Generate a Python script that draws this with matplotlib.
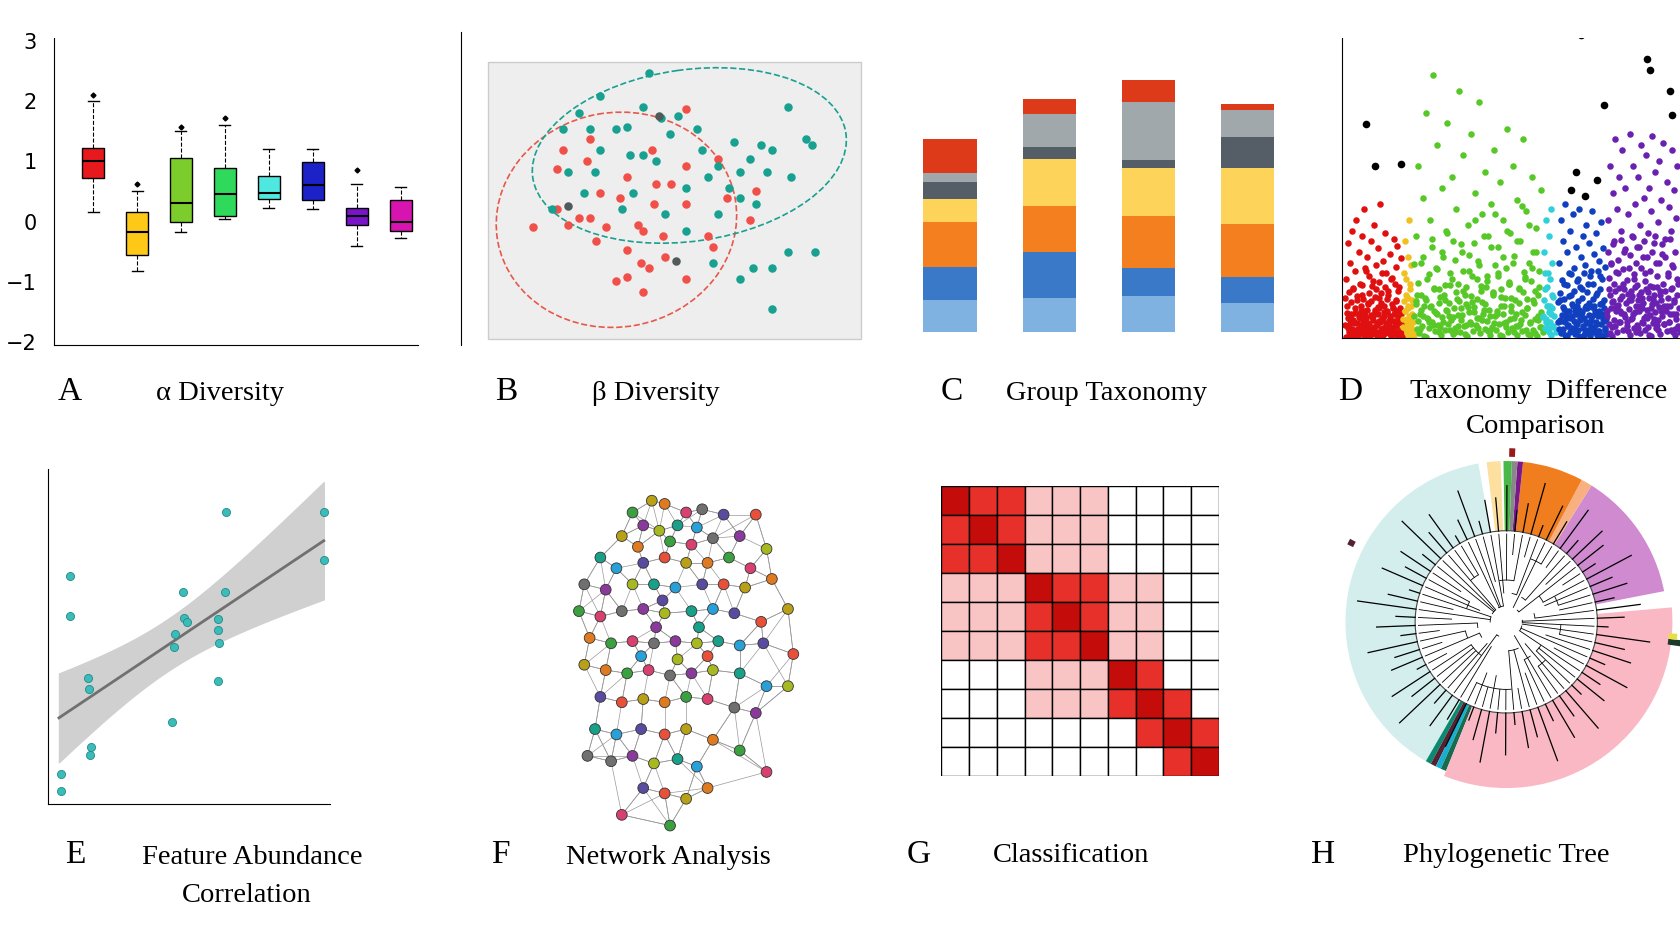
import numpy as np
import matplotlib.pyplot as plt
from matplotlib.patches import Ellipse, Rectangle, Wedge, Arc

# reference measured in a 1568 x 873 frame; figure is saved at 1681 x 936
W, H = 1568, 873
fig = plt.figure(figsize=(16.81, 9.36), dpi=100)
SERIF = 'Liberation Serif'

def px_axes(x0, y0, x1, y1):
    return fig.add_axes([x0 / W, 1 - y1 / H, (x1 - x0) / W, (y1 - y0) / H])

# ── data ──────────────────────────────────────────────────────────────────────
# A: alpha diversity box stats (med, q1, q3, lo, hi, fliers)
alpha_colors = ['#e8191c', '#fdc916', '#7ccd2c', '#2fd95c', '#4ee8e0', '#1c22c8', '#7a14c8', '#d814b0']
alpha_med = [1.0, -0.17, 0.3, 0.45, 0.48, 0.6, 0.1, 0.0]
alpha_q1 = [0.72, -0.55, 0.0, 0.1, 0.38, 0.35, -0.05, -0.15]
alpha_q3 = [1.22, 0.15, 1.05, 0.88, 0.75, 0.98, 0.22, 0.35]
alpha_lo = [0.15, -0.82, -0.17, 0.05, 0.22, 0.2, -0.4, -0.28]
alpha_hi = [2.0, 0.5, 1.5, 1.6, 1.2, 1.2, 0.62, 0.58]
alpha_fliers = [[2.1], [0.62], [1.57], [1.72], [], [], [0.85], []]

# B: beta diversity ordination (PC1, PC2)
beta_red = [(520,158),(548,150),(520,195),(497,212),(540,203),(550,203),(565,212),(578,185),(585,165),
            (595,210),(610,190),(600,215),(618,220),(620,240),(598,245),(585,258),(600,272),(575,262),
            (585,233),(556,225),(660,220),(640,190),(626,172),(608,140),(640,155),(640,102),(665,230),
            (640,260),(678,185),(700,205),(705,178),(670,148),(525,140),(550,130),(605,250),(560,180),
            (530,210),(612,172)]
beta_teal = [(605,68),(560,90),(575,120),(585,118),(617,110),(625,125),(612,150),(555,160),(545,180),
             (530,160),(525,120),(550,120),(588,145),(600,145),(655,140),(670,155),(685,132),(700,148),
             (720,140),(715,160),(690,160),(680,175),(705,190),(735,100),(752,130),(757,135),(738,165),
             (660,165),(670,200),(640,215),(665,245),(690,260),(720,288),(735,235),(760,235),(702,250),
             (650,120),(560,140),(600,100),(540,105),(590,180),(690,185),(620,200),(580,195),(640,175),
             (710,135),(515,195),(720,250),(632,108)]
beta_grey = [(530,192),(631,243),(615,108)]

# C: group taxonomy stacks (bottom -> top)
tax_colors = ['#7fb2e0', '#3a78c8', '#f47f1e', '#fdd35a', '#555d66', '#a0a8ab', '#dd3a1a']
tax_groups = [
    [30, 31, 42, 21, 16, 9, 31],
    [32, 43, 43, 44, 11, 31, 14],
    [34, 26, 49, 44, 8, 54, 20],
    [27, 25, 49, 52, 29, 25, 6],
]

# D: taxonomy difference (per-group significance values)
diff_colors = ['#e01010', '#f0c020', '#58c828', '#30d0d8', '#1040c0', '#6a20b0']
diff_ranges = [(1252, 1310), (1306, 1320), (1316, 1440), (1436, 1452), (1450, 1500), (1496, 1568)]
diff_vals = [
    [12,55,30,88,5,70,22,100,45,15,62,110,35,8,80,50,25,95,40,18,120,65,10,75,32,58,3,90,48,20,105,38,
     68,14,84,28,52,125,42,6,72,24,98,60,36,44,16,78,4,56,28,92,11,66,34,86,19,47,2,74],
    [10,60,25,90,40,5,75,30,110,50,18,68,35],
    [20,95,40,160,8,70,130,30,210,55,15,110,85,245,25,65,180,45,10,140,75,35,100,200,20,60,150,90,5,120,
     50,230,28,80,170,40,12,105,62,190,33,88,135,18,72,220,48,115,26,155,58,95,7,125,42,175,68,22,85,
     145,38,110,14,65,195,52,98,30,160,76,11,128,46,90,24,185,57,118,36,70,3,150,80,44,102,17,62,138],
    [20,80,45,110,10,60,95,30,120,70,38],
    [15,70,35,110,5,90,50,125,25,80,12,60,100,40,20,115,65,8,85,30,55,120,18,75,45,95,3,68,105,28,50,
     88,14,62,118,36,78,22,98,42,6,72,58,108,32,84,16,66],
    [20,110,45,160,70,10,135,90,185,30,120,60,150,25,100,175,50,80,140,15,115,65,190,35,95,160,55,125,5,
     85,150,40,105,180,28,75,130,60,170,18,98,140,48,118,188,36,88,155,70,12,108,165,44,128,78,182,30,
     92,145,58,122,22,100,175,66,138,8,112,160,50],
]
diff_black = [(1274,199),(1283,160),(1307,162),(1475,282),(1496,217),(1536,260),(1558,230),(1560,208),
              (1465,138),(1470,155),(1490,147),(1478,132),(1539,250)]

# E: feature abundance correlation
corr_x = [65,65,57,57,82,83,85,84,160,162,163,171,172,174,203,203,204,203,210,211,302,302]
corr_y = [537,575,722,738,632,643,697,704,673,603,591,552,576,580,577,588,600,635,552,478,478,522]

# F: network nodes
net_nodes = [(608,467),(620,470),(590,478),(640,478),(655,475),(600,490),(615,495),(632,490),(650,492),
             (675,480),(705,480),(580,500),(595,510),(625,505),(645,508),(665,502),(690,500),(715,512),
             (560,520),(575,530),(600,525),(620,520),(640,525),(660,525),(680,520),(700,530),(545,545),
             (565,550),(590,545),(610,545),(630,548),(655,545),(675,545),(695,548),(720,540),(540,570),
             (560,575),(580,570),(600,568),(620,572),(645,570),(665,568),(685,572),(710,580),(735,568),
             (550,595),(570,600),(590,598),(610,600),(630,598),(650,600),(670,598),(690,602),(712,600),
             (740,610),(545,620),(565,625),(585,628),(605,625),(625,630),(645,628),(665,625),(690,628),
             (715,640),(560,650),(580,655),(600,652),(620,655),(640,650),(660,652),(685,660),(705,665),
             (735,640),(555,680),(575,685),(598,680),(620,685),(640,680),(665,690),(690,700),(715,720),
             (570,710),(590,705),(610,712),(632,708),(650,715),(600,735),(620,740),(640,745),(660,735),
             (625,770),(580,760),(548,705),(612,585),(632,615),(652,585),(598,612),(618,560),(660,612)]
net_palette = ['#b8a018', '#2aa0d8', '#8a3a9a', '#3aa040', '#e8503a', '#18a088', '#707070',
               '#e07a20', '#5a4aa0', '#a8b820', '#d84070']

# G: classification confusion levels
conf = [[3,2,2,1,1,1,0,0,0,0],
        [2,3,2,1,1,1,0,0,0,0],
        [2,2,3,1,1,1,0,0,0,0],
        [1,1,1,3,2,2,1,1,0,0],
        [1,1,1,2,3,2,1,1,0,0],
        [1,1,1,2,2,3,1,1,0,0],
        [0,0,0,1,1,1,3,2,0,0],
        [0,0,0,1,1,1,2,3,2,0],
        [0,0,0,0,0,0,0,2,3,2],
        [0,0,0,0,0,0,0,0,2,3]]
conf_colors = ['#ffffff', '#f9c4c4', '#e8302a', '#c40c0a']

# H: phylogenetic clades (start angle, end angle, colour, outer radius)
clades = [(100, 240, '#d4eeee', 150), (240, 242, '#0a8a70', 150), (242, 244, '#552233', 150),
          (244, 246, '#18b0d0', 150), (246, 248, '#1a6a50', 150), (248, 365, '#f9b8c4', 155),
          (11, 58, '#cf8ad0', 150), (58, 62, '#f8b080', 150), (62, 84, '#f07d1e', 150),
          (84, 86, '#7a1a8a', 150), (86, 88, '#888888', 150), (88, 91, '#4ab848', 150),
          (92, 97, '#fde0a0', 150)]
leaf_len = [30,12,45,20,8,38,25,50,15,33,22,41,10,28,55,18,36,14,47,24,31,9,42,27,52,16,35,21,44,13,
            29,48,19,39,11,34,26,53,17,40,23,46,12,32,20,43,15,37,28,50,10,25,41,18,33,22,47,14,30,38,
            16,44,24,35,11,49,27,19,42,31]

# ── A ─────────────────────────────────────────────────────────────────────────
ax = px_axes(50, 35, 390, 322)
stats = [dict(med=m, q1=a, q3=b, whislo=l, whishi=h, fliers=f)
         for m, a, b, l, h, f in zip(alpha_med, alpha_q1, alpha_q3, alpha_lo, alpha_hi, alpha_fliers)]
bp = ax.bxp(stats, positions=range(1, 9), widths=0.5, patch_artist=True,
            medianprops=dict(color='black', lw=1.5), whiskerprops=dict(ls='--', lw=0.8),
            flierprops=dict(marker='D', markersize=2.5, markerfacecolor='black'))
for patch, c in zip(bp['boxes'], alpha_colors):
    patch.set_facecolor(c)
ax.set_xlim(0.1, 8.4); ax.set_ylim(-2.05, 3.05)
ax.set_yticks(range(-2, 4)); ax.set_yticklabels(['−2', '−1', '0', '1', '2', '3'])
ax.set_xticks([]); ax.tick_params(length=0, labelsize=15, pad=12)
for s in ['top', 'right']:
    ax.spines[s].set_visible(False)

# ── B ─────────────────────────────────────────────────────────────────────────
ax = px_axes(430, 30, 810, 322)
ax.set_xlim(430, 810); ax.set_ylim(322, 30)
ax.add_patch(Rectangle((455, 58), 348, 258, facecolor='#eeeeee', edgecolor='#cccccc'))
ax.add_patch(Ellipse((575, 205), 225, 200, angle=-10, fill=False, ec='#e8584a', ls='--', lw=1.2))
ax.add_patch(Ellipse((643, 145), 295, 160, angle=-8, fill=False, ec='#18a090', ls='--', lw=1.2))
ax.scatter(*zip(*beta_red), s=26, color='#f05048', zorder=3)
ax.scatter(*zip(*beta_teal), s=26, color='#18a090', zorder=3)
ax.scatter(*zip(*beta_grey), s=26, color='#505a5a', zorder=3)
ax.set_xticks([]); ax.set_yticks([])
for s in ['top', 'right', 'bottom']:
    ax.spines[s].set_visible(False)

# ── C ─────────────────────────────────────────────────────────────────────────
ax = px_axes(840, 30, 1210, 310)
bottoms = np.zeros(len(tax_groups))
vals = np.array(tax_groups)
for k, c in enumerate(tax_colors):
    ax.bar(range(4), vals[:, k], bottom=bottoms, width=0.54, color=c)
    bottoms += vals[:, k]
ax.set_xlim(-0.5, 3.5); ax.set_ylim(0, 280); ax.axis('off')

# ── D ─────────────────────────────────────────────────────────────────────────
ax = px_axes(1252, 35, 1568, 315)
for (x0, x1), c, v in zip(diff_ranges, diff_colors, diff_vals):
    ax.scatter(np.linspace(x0 + 3, x1 - 3, len(v)), v, s=22, color=c, lw=0)
    ax.scatter(np.linspace(x1 - 3, x0 + 3, len(v)), np.array(v) * 0.5, s=22, color=c, lw=0)
    ax.scatter(np.linspace(x0 + 5, x1 - 1, len(v)), np.array(v)[::-1] * 0.25, s=22, color=c, lw=0)
ax.scatter(*zip(*diff_black), s=20, color='black')
ax.set_xlim(1252, 1568); ax.set_ylim(0, 280)
ax.set_xticks([]); ax.set_yticks([])
for s in ['top', 'right']:
    ax.spines[s].set_visible(False)

# ── E ─────────────────────────────────────────────────────────────────────────
ax = px_axes(45, 437, 308, 750)
cx, cy = np.array(corr_x, float), -np.array(corr_y, float)
k, b = np.polyfit(cx, cy, 1)
xs = np.linspace(55, 302, 50)
res = cy - (k * cx + b)
se = np.sqrt(np.sum(res ** 2) / (len(cx) - 2))
band = 2.1 * se * np.sqrt(1 / len(cx) + (xs - cx.mean()) ** 2 / np.sum((cx - cx.mean()) ** 2))
ax.fill_between(xs, k * xs + b - band, k * xs + b + band, color='#d0d0d0')
ax.plot(xs, k * xs + b, color='#707070', lw=2)
ax.scatter(cx, cy, s=34, color='#3cbcb8', ec='#208a88', lw=0.6, zorder=3)
ax.set_xlim(45, 308); ax.set_ylim(-750, -437)
ax.set_xticks([]); ax.set_yticks([])
for s in ['top', 'right']:
    ax.spines[s].set_visible(False)

# ── F ─────────────────────────────────────────────────────────────────────────
ax = px_axes(520, 450, 760, 785)
nodes = np.array(net_nodes, float)
d = np.hypot(nodes[:, None, 0] - nodes[None, :, 0], nodes[:, None, 1] - nodes[None, :, 1])
for i in range(len(nodes)):
    for j in np.argsort(d[i])[1:5]:
        ax.plot(nodes[[i, j], 0], nodes[[i, j], 1], color='#999999', lw=0.5, zorder=1)
cols = [net_palette[(i * 7) % len(net_palette)] for i in range(len(nodes))]
ax.scatter(nodes[:, 0], nodes[:, 1], s=60, c=cols, ec='#333333', lw=0.6, zorder=2)
ax.set_xlim(520, 760); ax.set_ylim(785, 450); ax.axis('off')

# ── G ─────────────────────────────────────────────────────────────────────────
ax = px_axes(878, 453, 1137, 724)
for r, row in enumerate(conf):
    for c_, v in enumerate(row):
        ax.add_patch(Rectangle((c_, r), 1, 1, facecolor=conf_colors[v], edgecolor='black', lw=1))
ax.set_xlim(0, 10); ax.set_ylim(10, 0); ax.axis('off')

# ── H ─────────────────────────────────────────────────────────────────────────
ax = px_axes(1235, 410, 1575, 750)
for a0, a1, c, r in clades:
    ax.add_patch(Wedge((0, 0), r, a0, a1, width=r - 85, facecolor=c, lw=0))
angs = np.linspace(100, 460, len(leaf_len), endpoint=False)
for a, L in zip(angs, leaf_len):
    t = np.deg2rad(a)
    ax.plot([85 * np.cos(t), (85 + L) * np.cos(t)], [85 * np.sin(t), (85 + L) * np.sin(t)], color='black', lw=0.9)
ax.add_patch(plt.Circle((0, 0), 85, facecolor='white', edgecolor='#444444', lw=0.8))
for a, L in zip(angs, leaf_len):
    t = np.deg2rad(a)
    r0 = 15 + (L % 5) * 12
    ax.plot([r0 * np.cos(t), 82 * np.cos(t)], [r0 * np.sin(t), 82 * np.sin(t)], color='black', lw=0.6)
for a, L in zip(angs[::2], leaf_len[::2]):
    r0 = 15 + (L % 5) * 12
    ax.add_patch(Arc((0, 0), 2 * r0, 2 * r0, theta1=a, theta2=a + 10, color='black', lw=0.6))
ax.add_patch(Wedge((0, 0), 165, 152, 154, width=6, facecolor='#552233'))
ax.add_patch(Wedge((0, 0), 162, 87, 89, width=8, facecolor='#991a1a'))
ax.add_patch(Wedge((0, 0), 170, -8, -6, width=18, facecolor='#1a3a2a'))
ax.add_patch(Wedge((0, 0), 160, -6, -4, width=8, facecolor='#e8e040'))
ax.set_xlim(-170, 170); ax.set_ylim(-170, 170); ax.set_aspect('equal'); ax.axis('off')

# ── labels ────────────────────────────────────────────────────────────────────
labels = [(65, 365, 'A'), (205, 367, 'α Diversity'), (472, 365, 'B'), (612, 367, 'β Diversity'),
          (888, 365, 'C'), (1032, 367, 'Group Taxonomy'), (1259, 365, 'D'),
          (1435, 365, 'Taxonomy  Difference'), (1432, 398, 'Comparison'),
          (70, 797, 'E'), (235, 800, 'Feature Abundance'), (230, 835, 'Correlation'),
          (467, 797, 'F'), (623, 800, 'Network Analysis'), (857, 797, 'G'),
          (999, 798, 'Classification'), (1234, 797, 'H'), (1405, 798, 'Phylogenetic Tree')]
for x, y, t in labels:
    fs = 24 if len(t) == 1 else 20.5
    fig.text(x / W, 1 - y / H, t, ha='center', va='center', fontsize=fs, family=SERIF)

fig.savefig('out.png', dpi=100)
